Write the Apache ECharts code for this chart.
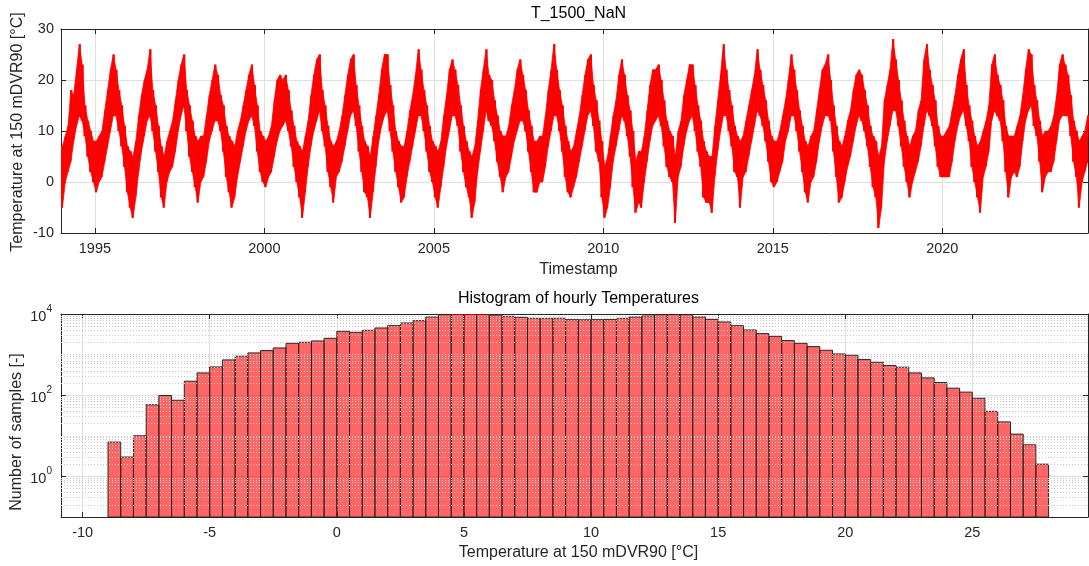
<!DOCTYPE html>
<html><head><meta charset="utf-8">
<script src="https://cdn.jsdelivr.net/npm/echarts@6/dist/echarts.min.js"></script>
<style>html,body{margin:0;padding:0;background:#fff;} #c{width:1089px;height:566px;}</style>
</head><body><div id="c"></div>
<script>
// ---------- data ----------
const startYear = 1994;           // first month = Jan 1994
const endYear = 2024.3;
// monthly lower / upper envelope of hourly temperature
const monthlyLow = [
  -5, 0, 2, 4, 8, 11, 13, 12, 9, 5, 2, 0,        // 1994
  -2, 0, 1, 4, 7, 10, 13, 13, 10, 7, 3, -2,      // 1995
  -5, -7, -3, 2, 6, 9, 12, 13, 10, 6, 2, -3,     // 1996
  -5, 0, 2, 3, 6, 10, 13, 15, 10, 5, 2, -1,      // 1997
  -4, 0, 1, 4, 8, 10, 12, 12, 10, 6, 1, -2,      // 1998
  -5, -3, 1, 4, 7, 10, 12, 13, 11, 6, 2, 0,      // 1999
  -1, 1, 2, 5, 8, 10, 11, 12, 10, 7, 3, 0,       // 2000
  -3, -7, -2, 3, 7, 10, 12, 14, 10, 7, 2, -1,    // 2001
  -4, 1, 2, 4, 7, 10, 13, 14, 11, 6, 2, -2,      // 2002
  -3, -7, -2, 3, 8, 11, 13, 14, 10, 6, 2, -1,    // 2003
  -4, -3, 1, 4, 7, 10, 13, 13, 10, 6, 2, 0,      // 2004
  -3, -5, -1, 3, 7, 10, 13, 13, 11, 6, 2, -1,    // 2005
  -3, -7, -4, 2, 6, 10, 14, 12, 11, 8, 4, 1,     // 2006
  -2, 1, 2, 5, 8, 10, 12, 12, 10, 6, 2, -2,      // 2007
  -2, 0, 0, 3, 7, 10, 13, 13, 10, 6, 1, -2,      // 2008
  -3, -1, 1, 4, 7, 10, 13, 14, 11, 6, 4, -3,     // 2009
  -7, -5, -1, 4, 7, 10, 13, 12, 9, 5, -1, -6,    // 2010
  -4, -5, 0, 4, 8, 11, 12, 13, 11, 7, 3, 1,      // 2011
  0, -8, 1, 3, 7, 10, 12, 13, 10, 6, 3, -3,      // 2012
  -4, -4, -6, 1, 6, 10, 13, 13, 10, 7, 2, 1,     // 2013
  -5, 1, 2, 5, 8, 11, 14, 13, 11, 8, 4, 0,       // 2014
  -1, 0, 2, 4, 8, 10, 13, 13, 10, 6, 2, -2,      // 2015
  -4, 0, 1, 4, 8, 11, 13, 13, 12, 6, 1, -4,      // 2016
  -3, 0, 3, 5, 8, 11, 13, 12, 10, 7, 3, -1,      // 2017
  -3, -9, -5, 4, 8, 11, 14, 14, 11, 7, 3, 0,     // 2018
  -3, 0, 2, 4, 7, 11, 14, 13, 11, 7, 3, 1,       // 2019
  1, 1, 1, 4, 8, 11, 13, 14, 11, 8, 3, 0,        // 2020
  -3, -6, 1, 3, 6, 12, 14, 13, 12, 8, 2, -3,     // 2021
  1, 2, 1, 3, 8, 12, 14, 15, 11, 9, 4, -2,       // 2022
  1, 2, 2, 4, 8, 12, 13, 13, 13, 9, 4, 1,        // 2023
  -5, 0, 2, 4                                    // 2024
];
const monthlyHigh = [
  7, 9, 11, 18, 17, 22, 27, 23, 15, 12, 10, 8,   // 1994
  8, 9, 10, 14, 18, 22, 25, 22, 18, 15, 11, 7,   // 1995
  6, 5, 8, 13, 17, 20, 22, 26, 18, 15, 11, 7,    // 1996
  5, 8, 10, 12, 16, 20, 23, 25, 18, 15, 12, 9,   // 1997
  8, 9, 9, 13, 17, 20, 23, 21, 17, 15, 11, 9,    // 1998
  8, 7, 10, 12, 15, 18, 21, 23, 19, 15, 10, 9,   // 1999
  8, 9, 11, 16, 20, 21, 20, 21, 18, 14, 11, 8,   // 2000
  7, 6, 9, 12, 17, 21, 24, 25, 18, 15, 11, 8,    // 2001
  7, 8, 10, 13, 17, 21, 24, 25, 19, 15, 11, 8,   // 2002
  7, 5, 9, 13, 17, 22, 25, 25, 19, 15, 10, 8,    // 2003
  7, 7, 10, 14, 17, 21, 26, 22, 18, 15, 11, 8,   // 2004
  7, 6, 8, 13, 17, 22, 24, 22, 19, 15, 11, 8,    // 2005
  6, 5, 7, 12, 18, 22, 26, 21, 20, 16, 13, 10,   // 2006
  9, 9, 11, 15, 18, 22, 24, 21, 18, 14, 11, 8,   // 2007
  8, 9, 9, 13, 18, 22, 27, 22, 18, 15, 11, 8,    // 2008
  6, 7, 10, 13, 17, 21, 24, 25, 19, 16, 12, 8,   // 2009
  3, 5, 9, 13, 16, 21, 24, 21, 17, 14, 10, 4,    // 2010
  6, 6, 9, 14, 19, 22, 22, 23, 20, 16, 12, 10,   // 2011
  9, 5, 10, 12, 17, 20, 23, 23, 19, 15, 12, 8,   // 2012
  6, 5, 5, 11, 16, 21, 27, 22, 18, 15, 11, 9,    // 2013
  8, 9, 12, 15, 18, 21, 26, 22, 19, 16, 12, 9,   // 2014
  8, 8, 10, 13, 16, 20, 25, 22, 18, 14, 11, 8,   // 2015
  7, 9, 10, 14, 18, 22, 23, 25, 20, 15, 11, 8,   // 2016
  7, 9, 12, 14, 18, 21, 22, 21, 18, 15, 11, 9,   // 2017
  8, 5, 7, 16, 19, 22, 28, 24, 20, 16, 12, 9,    // 2018
  7, 9, 10, 14, 16, 24, 27, 22, 19, 16, 11, 9,   // 2019
  9, 10, 11, 14, 17, 21, 24, 26, 19, 15, 12, 9,  // 2020
  7, 8, 10, 12, 15, 23, 25, 21, 19, 16, 11, 9,   // 2021
  9, 9, 11, 13, 17, 22, 26, 25, 19, 16, 12, 9,   // 2022
  10, 10, 11, 13, 17, 23, 25, 23, 21, 17, 12, 10,// 2023
  8, 9, 10, 13                                   // 2024
];
const yearTicks = [1995, 2000, 2005, 2010, 2015, 2020];
const tempTicks = [-10, 0, 10, 20, 30];

// histogram: 0.5 °C bins starting at -9 °C
const binStart = -9;
const binWidth = 0.5;
const histCounts = [
  7, 3, 10, 58, 98, 75, 221, 354, 497, 739, 910, 1099, 1254, 1458, 1900, 2010, 2168, 2523, 3750, 3540, 3965,
  4525, 5170, 6010, 6860, 8440, 9640, 10300, 10300, 10300, 9440, 8770, 8280, 7820, 7800, 7850,
  7260, 7200, 7250, 7280, 7820, 8440, 8940, 9640, 9700, 9640, 8440, 7390, 6360,
  5170, 4040, 3280, 2820, 2210, 1900, 1573, 1278, 1038, 963, 754, 648, 537, 489, 354, 267, 205, 149, 119, 84,
  40, 22, 11, 6, 2
];
const histTicks = [-10, -5, 0, 5, 10, 15, 20, 25];
const countTicks = [1, 100, 10000];

// ---------- build ----------
const n = monthlyLow.length;
// filled band between consecutive mid-month samples
const bandData = [[startYear, monthlyLow[0], monthlyHigh[0], startYear + 0.5 / 12, monthlyLow[0], monthlyHigh[0]]];
for (let i = 0; i < n; i++) {
  const j = Math.min(i + 1, n - 1);
  const t0 = startYear + (i + 0.5) / 12;
  const t1 = i + 1 < n ? startYear + (i + 1.5) / 12 : endYear;
  bandData.push([t0, monthlyLow[i], monthlyHigh[i], t1, monthlyLow[j], monthlyHigh[j]]);
}
// hourly-style trace: low and high of each month, alternating
const lineData = [];
for (let i = 0; i < n; i++) {
  lineData.push([startYear + (i + 0.2) / 12, monthlyLow[i]]);
  lineData.push([startYear + (i + 0.8) / 12, monthlyHigh[i]]);
}

const histData = histCounts.map((c, i) => [binStart + i * binWidth, binStart + (i + 1) * binWidth, c]);
const minorVals = [];
for (let k = -1; k <= 3; k++) for (let m = 2; m <= 10; m++) {
  const v = m * Math.pow(10, k);
  const e = Math.log10(v);
  if (Math.abs(e - Math.round(e)) < 1e-9 && Math.round(e) % 2 === 0) continue;
  minorVals.push(+v.toPrecision(3));
}

const FONT = 'Liberation Sans, Arial, Helvetica, sans-serif';
const AX = '#262626';
const GRID = '#dfdfdf';
const tickLab = { fontFamily: FONT, fontSize: 14.5, color: AX };

function xAx(gi, min, max, ticks, pos, labels) {
  return {
    type: 'value', gridIndex: gi, min, max, position: pos,
    axisLine: { show: true, onZero: false, lineStyle: { color: AX, width: 1 } },
    axisTick: { show: true, inside: true, length: 5, customValues: ticks, lineStyle: { color: AX } },
    axisLabel: labels ? Object.assign({ show: true, margin: 8, customValues: ticks, formatter: v => String(v) }, tickLab) : { show: false },
    splitLine: { show: labels, lineStyle: { color: GRID, width: 1 } }
  };
}

const chart = echarts.init(document.getElementById('c'), null, { renderer: 'canvas' });
chart.setOption({
  animation: false,
  backgroundColor: '#fff',
  grid: [
    { left: 61, right: 1, top: 29, height: 204, show: false },
    { left: 61, right: 1, top: 314, height: 203, show: false }
  ],
  xAxis: [
    xAx(0, startYear, endYear, yearTicks, 'bottom', true),
    xAx(0, startYear, endYear, yearTicks, 'top', false),
    xAx(1, -10.85, 29.55, histTicks, 'bottom', true),
    xAx(1, -10.85, 29.55, histTicks, 'top', false)
  ],
  yAxis: [
    { type: 'value', gridIndex: 0, min: -10, max: 30, interval: 10, position: 'left',
      axisLine: { show: true, onZero: false, lineStyle: { color: AX } },
      axisTick: { show: true, inside: true, length: 5, lineStyle: { color: AX } },
      axisLabel: Object.assign({ margin: 7 }, tickLab),
      splitLine: { show: true, lineStyle: { color: GRID } } },
    { type: 'value', gridIndex: 0, min: -10, max: 30, interval: 10, position: 'right',
      axisLine: { show: true, onZero: false, lineStyle: { color: AX } },
      axisTick: { show: true, inside: true, length: 5, lineStyle: { color: AX } },
      axisLabel: { show: false }, splitLine: { show: false } },
    { type: 'log', logBase: 10, gridIndex: 1, min: 0.1, max: 10000, position: 'left',
      axisLine: { show: true, onZero: false, lineStyle: { color: AX } },
      axisTick: { show: true, inside: true, length: 5, customValues: countTicks, lineStyle: { color: AX } },
      axisLabel: {
        margin: 9, customValues: countTicks,
        formatter: v => '{b|10}{s|' + Math.round(Math.log10(v)) + '}',
        rich: {
          b: { fontFamily: FONT, fontSize: 14.5, color: AX, lineHeight: 20, verticalAlign: 'bottom' },
          s: { fontFamily: FONT, fontSize: 10, color: AX, lineHeight: 20, verticalAlign: 'top' }
        }
      },
      splitLine: { show: true, lineStyle: { color: GRID } } },
    { type: 'log', logBase: 10, gridIndex: 1, min: 0.1, max: 10000, position: 'right',
      axisLine: { show: true, onZero: false, lineStyle: { color: AX } },
      axisTick: { show: true, inside: true, length: 5, customValues: countTicks, lineStyle: { color: AX } },
      axisLabel: { show: false }, splitLine: { show: false } }
  ],
  series: [
    { type: 'custom', xAxisIndex: 0, yAxisIndex: 0, data: bandData, clip: true, z: 3,
      encode: { x: [0, 3], y: [1, 2, 4, 5] },
      renderItem: (params, api) => {
        const a = api.coord([api.value(0), api.value(1)]);
        const b = api.coord([api.value(0), api.value(2)]);
        const c = api.coord([api.value(3), api.value(5)]);
        const d = api.coord([api.value(3), api.value(4)]);
        return { type: 'polygon', shape: { points: [a, b, c, d] },
          style: { fill: '#ff0000', stroke: '#ff0000', lineWidth: 0.8 } };
      } },
    { type: 'line', xAxisIndex: 0, yAxisIndex: 0, data: lineData, showSymbol: false, symbol: 'none',
      sampling: null, lineStyle: { color: '#ff0000', width: 1 }, z: 4, clip: true },
    { type: 'line', xAxisIndex: 2, yAxisIndex: 2, data: [], z: 1, silent: true,
      markLine: { silent: true, symbol: 'none', label: { show: false }, animation: false,
        lineStyle: { type: [1, 2], color: '#c8c8c8', width: 1 },
        data: minorVals.map(v => ({ yAxis: v })) } },
    { type: 'custom', xAxisIndex: 2, yAxisIndex: 2, data: histData, clip: true, z: 3,
      encode: { x: [0, 1], y: 2 },
      renderItem: (params, api) => {
        const p0 = api.coord([api.value(0), api.value(2)]);
        const p1 = api.coord([api.value(1), 0.1]);
        return { type: 'rect',
          shape: { x: p0[0], y: p0[1], width: p1[0] - p0[0], height: p1[1] - p0[1] },
          style: { fill: 'rgba(255,0,0,0.6)', stroke: '#262626', lineWidth: 1 } };
      } }
  ],
  graphic: [
    { type: 'text', x: 578.5, y: 14, style: { text: 'T_1500_NaN', font: '16px ' + FONT, fill: '#000', align: 'center', verticalAlign: 'middle' } },
    { type: 'text', x: 578.5, y: 270, style: { text: 'Timestamp', font: '16px ' + FONT, fill: AX, align: 'center', verticalAlign: 'middle' } },
    { type: 'text', x: 18, y: 132, rotation: Math.PI / 2, style: { text: 'Temperature at 150 mDVR90 [°C]', font: '16px ' + FONT, fill: AX, align: 'center', verticalAlign: 'middle' } },
    { type: 'text', x: 578.5, y: 299, style: { text: 'Histogram of hourly Temperatures', font: '16px ' + FONT, fill: '#000', align: 'center', verticalAlign: 'middle' } },
    { type: 'text', x: 578.5, y: 553, style: { text: 'Temperature at 150 mDVR90 [°C]', font: '16px ' + FONT, fill: AX, align: 'center', verticalAlign: 'middle' } },
    { type: 'text', x: 17, y: 432, rotation: Math.PI / 2, style: { text: 'Number of samples [-]', font: '16px ' + FONT, fill: AX, align: 'center', verticalAlign: 'middle' } }
  ]
});
</script>
</body></html>
